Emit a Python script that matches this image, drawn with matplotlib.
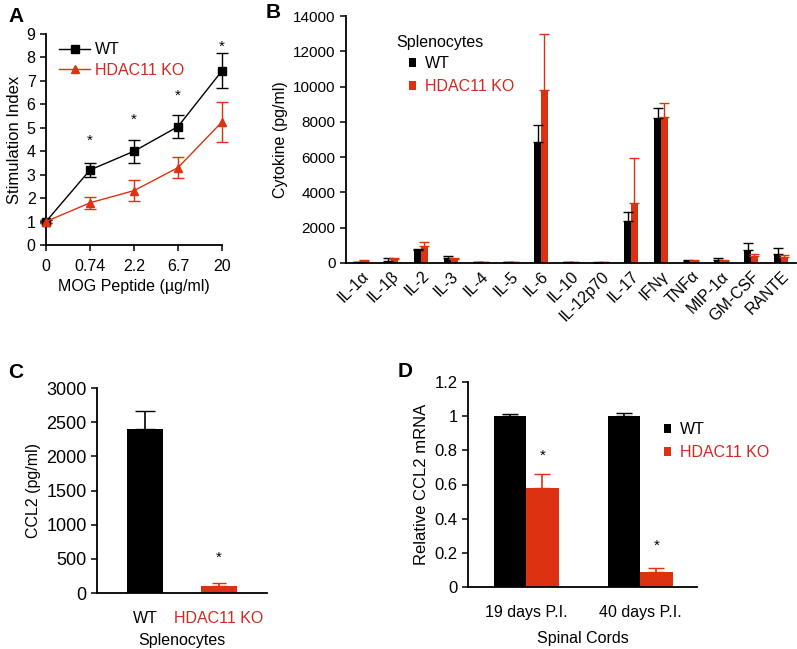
import matplotlib
matplotlib.use('Agg')
import matplotlib.pyplot as plt
from matplotlib.lines import Line2D
import numpy as np

plt.rcParams['font.family'] = ['Liberation Sans', 'DejaVu Sans']
plt.rcParams['font.size'] = 11

ROJO = '#dc3212'
ROJO_TXT = '#d02a20'

# Panel A: índice de estimulación
dosis = ['0', '0.74', '2.2', '6.7', '20']
a_wt = [1.0, 3.2, 4.0, 5.05, 7.43]
a_wt_err = [0.05, 0.3, 0.5, 0.5, 0.75]
a_ko = [1.0, 1.8, 2.32, 3.3, 5.25]
a_ko_err = [0.05, 0.25, 0.45, 0.45, 0.85]
a_asteriscos = [None, 4.45, 5.35, 6.35, 8.45]

# Panel B: citoquinas
citoquinas = ['IL-1α', 'IL-1β', 'IL-2', 'IL-3', 'IL-4', 'IL-5', 'IL-6', 'IL-10',
              'IL-12p70', 'IL-17', 'IFNγ', 'TNFα', 'MIP-1α', 'GM-CSF', 'RANTE']
b_wt = [60, 130, 760, 300, 40, 60, 6850, 30, 20, 2400, 8200, 120, 150, 720, 500]
b_wt_err = [20, 150, 60, 90, 15, 20, 950, 10, 10, 500, 560, 40, 130, 420, 350]
b_ko = [90, 200, 950, 200, 60, 60, 9800, 30, 50, 3380, 8280, 110, 120, 400, 330]
b_ko_err = [100, 80, 250, 100, 20, 20, 3200, 10, 10, 2570, 800, 40, 40, 100, 100]

# Panel C: CCL2 en esplenocitos
c_grupos = ['WT', 'HDAC11 KO']
c_valores = [2400, 100]
c_err = [260, 45]

# Panel D: ARNm de CCL2 en médula espinal
d_tiempos = ['19 days P.I.', '40 days P.I.']
d_wt = [1.0, 1.0]
d_wt_err = [0.015, 0.02]
d_ko = [0.58, 0.09]
d_ko_err = [0.08, 0.02]
d_asteriscos = [0.77, 0.24]

W, H = 797, 649
fig = plt.figure(figsize=(W / 100, H / 100), dpi=100)


def ejes(izq, der, arriba, abajo, tam=11):
    ax = fig.add_axes([izq / W, 1 - abajo / H, (der - izq) / W, (abajo - arriba) / H])
    for s in ['top', 'right']:
        ax.spines[s].set_visible(False)
    for s in ['left', 'bottom']:
        ax.spines[s].set_linewidth(1.3)
    ax.tick_params(direction='out', length=4, width=1.1, labelsize=tam)
    return ax


def leyenda_barras(ax, ancla):
    leg = ax.legend(loc='upper left', bbox_to_anchor=ancla, frameon=False,
                    fontsize=11.5, handlelength=0.45, handleheight=0.45,
                    handletextpad=0.55, borderaxespad=0, borderpad=0,
                    labelspacing=0.5)
    leg.get_texts()[1].set_color(ROJO_TXT)
    return leg


# ---- A ----
ax = ejes(46, 222, 34, 245, tam=11.5)
x = np.arange(len(dosis))
ax.errorbar(x, a_wt, yerr=a_wt_err, color='black', marker='s', ms=6, lw=1,
            capsize=4, elinewidth=1, clip_on=False, zorder=3)
ax.errorbar(x, a_ko, yerr=a_ko_err, color=ROJO, marker='^', ms=6, lw=1,
            capsize=4, elinewidth=1, clip_on=False, zorder=3)
for xi, yi in zip(x, a_asteriscos):
    if yi is not None:
        ax.text(xi, yi, '*', ha='center', va='center', fontsize=11)
ax.set_xlim(0, 4)
ax.set_ylim(0, 9)
ax.set_yticks(range(10))
ax.set_xticks(x)
ax.set_xticklabels(dosis)
ax.tick_params(axis='x', pad=6)
ax.set_ylabel('Stimulation Index', labelpad=3, fontsize=12)
ax.set_xlabel('MOG Peptide (µg/ml)', labelpad=4, fontsize=11.5)
manijas = [Line2D([], [], color='black', marker='s', ms=6, lw=1),
           Line2D([], [], color=ROJO, marker='^', ms=6, lw=1)]
leg = ax.legend(manijas, ['WT', 'HDAC11 KO'], loc='upper left',
                bbox_to_anchor=(0.04, 0.99), frameon=False, fontsize=11.5,
                handlelength=1.9, handletextpad=0.3, borderaxespad=0,
                labelspacing=0.35)
leg.get_texts()[1].set_color(ROJO_TXT)
fig.text(8 / W, 1 - 16 / H, 'A', fontsize=15, fontweight='bold', va='center')

# ---- B ----
ax = ejes(346, 796, 16, 263)
x = np.arange(len(citoquinas))
ancho = 0.23
ax.bar(x - ancho / 2, b_wt, ancho, color='black', label='WT')
ax.bar(x + ancho / 2, b_ko, ancho, color=ROJO, label='HDAC11 KO')
ax.errorbar(x - ancho / 2, b_wt, yerr=[np.zeros(len(b_wt)), b_wt_err], fmt='none',
            ecolor='black', elinewidth=1, capsize=3.5)
ax.errorbar(x + ancho / 2, b_ko, yerr=[np.zeros(len(b_ko)), b_ko_err], fmt='none',
            ecolor=ROJO, elinewidth=1, capsize=3.5)
ax.set_xlim(-0.5, 14.5)
ax.set_ylim(0, 14000)
ax.set_yticks(range(0, 14001, 2000))
ax.set_xticks(x)
ax.set_xticklabels(citoquinas, rotation=45, ha='right', rotation_mode='anchor',
                   fontsize=11.5)
ax.tick_params(axis='x', length=0, pad=4)
ax.set_ylabel('Cytokine (pg/ml)', labelpad=4, fontsize=11.5)
fig.text(396 / W, 1 - 42 / H, 'Splenocytes', fontsize=11.5, va='center')
leyenda_barras(ax, ((409 - 346) / 450, 1 - (56 - 16) / 247))
fig.text(266 / W, 1 - 13 / H, 'B', fontsize=15, fontweight='bold', va='center')

# ---- C ----
ax = ejes(97, 267, 388, 593, tam=13)
x = np.arange(len(c_grupos))
ax.bar(x, c_valores, 0.49, color=['black', ROJO])
ax.errorbar(x[0], c_valores[0], yerr=[[0], [c_err[0]]], fmt='none', ecolor='black',
            elinewidth=1.2, capsize=7)
ax.errorbar(x[1], c_valores[1], yerr=[[0], [c_err[1]]], fmt='none', ecolor=ROJO,
            elinewidth=1.2, capsize=5)
ax.text(1, 520, '*', ha='center', va='center', fontsize=11)
ax.set_xlim(-0.65, 1.65)
ax.set_ylim(0, 3000)
ax.set_yticks(range(0, 3001, 500))
ax.set_xticks(x)
ax.set_xticklabels(c_grupos, fontsize=11.5)
ax.get_xticklabels()[1].set_color(ROJO_TXT)
ax.tick_params(axis='x', length=0, pad=13)
ax.set_ylabel('CCL2 (pg/ml)', labelpad=4, fontsize=11.5)
ax.set_xlabel('Splenocytes', labelpad=5, fontsize=11.5)
fig.text(8 / W, 1 - 373 / H, 'C', fontsize=15, fontweight='bold', va='center')

# ---- D ----
ax = ejes(468, 697, 382, 587, tam=12)
x = np.arange(len(d_tiempos))
ancho = 0.285
ax.bar(x - ancho / 2, d_wt, ancho, color='black', label='WT')
ax.bar(x + ancho / 2, d_ko, ancho, color=ROJO, label='HDAC11 KO')
ax.errorbar(x - ancho / 2, d_wt, yerr=[[0, 0], d_wt_err], fmt='none', ecolor='black',
            elinewidth=1.2, capsize=6)
ax.errorbar(x + ancho / 2, d_ko, yerr=[[0, 0], d_ko_err], fmt='none', ecolor=ROJO,
            elinewidth=1.2, capsize=6)
for xi, yi in zip(x, d_asteriscos):
    ax.text(xi + ancho / 2, yi, '*', ha='center', va='center', fontsize=11)
ax.set_xlim(-0.51, 1.5)
ax.set_ylim(0, 1.2)
ax.set_yticks([0, 0.2, 0.4, 0.6, 0.8, 1, 1.2])
ax.set_yticklabels(['0', '0.2', '0.4', '0.6', '0.8', '1', '1.2'])
ax.set_xticks(x)
ax.set_xticklabels(d_tiempos, fontsize=11.5)
ax.tick_params(axis='x', length=0, pad=13)
ax.set_ylabel('Relative CCL2 mRNA', labelpad=4, fontsize=12)
ax.set_xlabel('Spinal Cords', labelpad=8, fontsize=11.5)
leyenda_barras(ax, ((664 - 468) / 229, 1 - (422 - 382) / 205))
fig.text(398 / W, 1 - 372 / H, 'D', fontsize=15, fontweight='bold', va='center')

fig.savefig('out.png', dpi=100)
